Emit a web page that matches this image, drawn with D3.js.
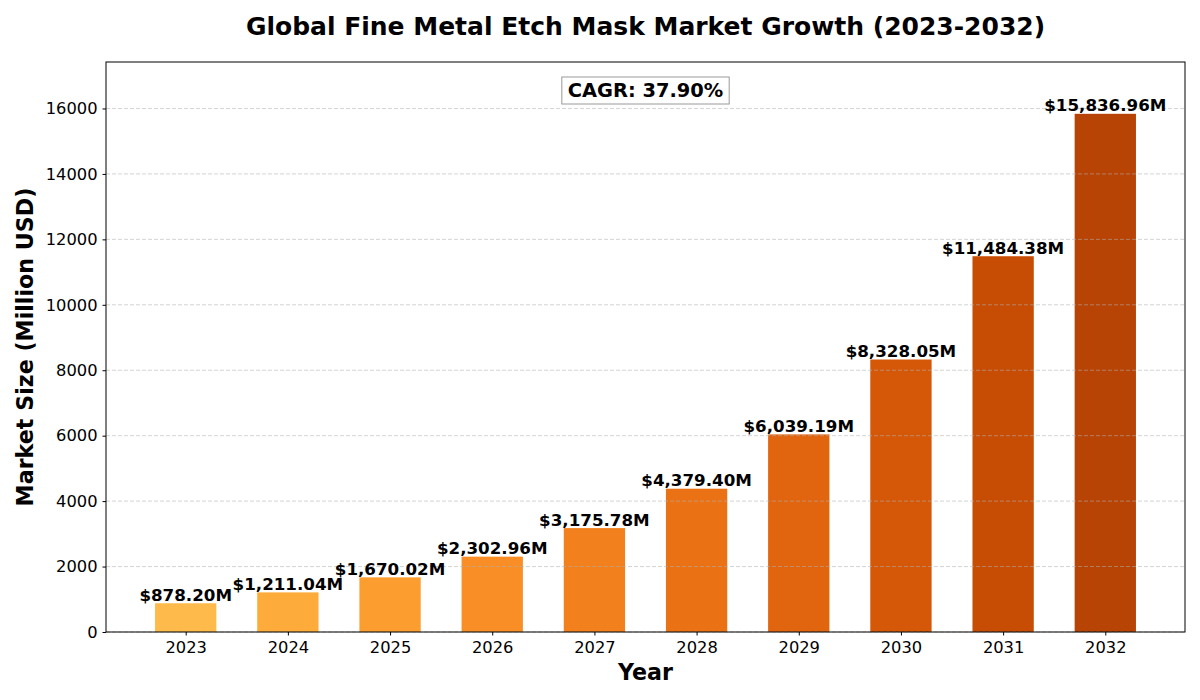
<!DOCTYPE html>
<html><head><meta charset="utf-8">
<script src="https://cdn.jsdelivr.net/npm/d3@7"></script>
<style>body{margin:0;background:#fff}svg{font-family:"DejaVu Sans",sans-serif}</style>
</head><body><svg id="c" width="1200" height="700"></svg>
<script>
const years = ["2023","2024","2025","2026","2027","2028","2029","2030","2031","2032"];
const values = [878.20, 1211.04, 1670.02, 2302.96, 3175.78, 4379.40, 6039.19, 8328.05, 11484.38, 15836.96];
const yTicks = [0, 2000, 4000, 6000, 8000, 10000, 12000, 14000, 16000];
const titleText = "Global Fine Metal Etch Mask Market Growth (2023-2032)";
const cagrText = "CAGR: 37.90%";

const svg = d3.select("#c");
const L = 106, R = 1185, T = 62, B = 632;
const n = years.length;
const x = d3.scaleLinear().domain([-0.78, n - 1 + 0.78]).range([L, R]);
const y = d3.scaleLinear().domain([0, d3.max(values) * 1.1]).range([B, T]);
const color = i => d3.interpolateYlOrBr(0.4 + 0.4 * i / (n - 1));

// bars
svg.append("g").selectAll("rect").data(values).join("rect")
  .attr("x", (d, i) => x(i - 0.3)).attr("width", x(0.6) - x(0))
  .attr("y", d => y(d)).attr("height", d => B - y(d))
  .attr("fill", (d, i) => color(i));

// grid (on top)
svg.append("g").selectAll("line").data(yTicks).join("line")
  .attr("x1", L).attr("x2", R).attr("y1", d => y(d)).attr("y2", d => y(d))
  .attr("stroke", "#b0b0b0").attr("stroke-opacity", 0.7).attr("stroke-width", 0.8)
  .attr("stroke-dasharray", "4,2");

// axes
const yAxis = svg.append("g").attr("transform", `translate(${L},0)`)
  .call(d3.axisLeft(y).tickValues(yTicks).tickSize(3.5).tickPadding(5).tickFormat(d3.format("d")));
const xAxis = svg.append("g").attr("transform", `translate(0,${B})`)
  .call(d3.axisBottom(x).tickValues(d3.range(n)).tickSize(3.5).tickPadding(6).tickFormat(i => years[i]));
[yAxis, xAxis].forEach(g => {
  g.select(".domain").remove();
  g.selectAll("text").attr("font-size", 16.3).attr("fill", "#000").attr("font-family", "DejaVu Sans");
  g.selectAll("line").attr("stroke", "#000");
});
svg.append("rect").attr("x", L).attr("y", T).attr("width", R - L).attr("height", B - T)
  .attr("fill", "none").attr("stroke", "#000").attr("stroke-width", 1);

// value labels
svg.append("g").selectAll("text").data(values).join("text")
  .attr("x", (d, i) => x(i)).attr("y", d => y(d) - 2.5)
  .attr("text-anchor", "middle").attr("font-size", 16.7).attr("font-weight", "bold")
  .text(d => "$" + d3.format(",.2f")(d) + "M");

// title & labels
svg.append("text").attr("x", (L + R) / 2).attr("y", 35).attr("text-anchor", "middle")
  .attr("font-size", 25).attr("font-weight", "bold").text(titleText);
svg.append("text").attr("x", (L + R) / 2).attr("y", 680).attr("text-anchor", "middle")
  .attr("font-size", 22.2).attr("font-weight", "bold").text("Year");
svg.append("text").attr("transform", `translate(33,${(T + B) / 2}) rotate(-90)`).attr("text-anchor", "middle")
  .attr("font-size", 22.2).attr("font-weight", "bold").text("Market Size (Million USD)");

// CAGR box
const cg = svg.append("g");
const ct = cg.append("text").attr("x", (L + R) / 2).attr("y", 97).attr("text-anchor", "middle")
  .attr("font-size", 19.4).attr("font-weight", "bold").text(cagrText);
const bb = ct.node().getBBox();
cg.insert("rect", "text").attr("x", bb.x - 6).attr("y", bb.y - 2).attr("width", bb.width + 12).attr("height", bb.height + 4)
  .attr("fill", "#fff").attr("stroke", "#999").attr("stroke-width", 1);
</script></body></html>
